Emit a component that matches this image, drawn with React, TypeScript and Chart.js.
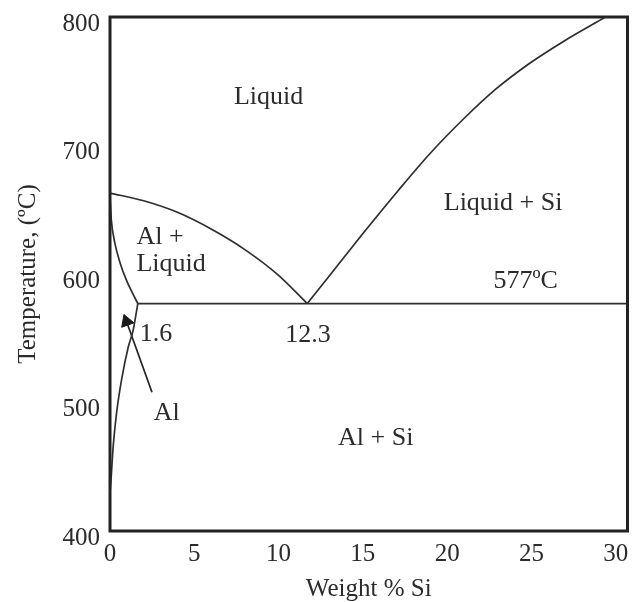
import React, { useEffect, useRef } from "react";
import { Chart, registerables } from "chart.js";

Chart.register(...registerables);

// Axis ticks
const xTicks = [0, 5, 10, 15, 20, 25, 30];
const yTicks = [400, 500, 600, 700, 800];
const xMin = 0;
const xMax = 30.7;
const yMin = 400;
const yMax = 800;

// Phase boundaries (wt% Si, temperature °C)
const alLiquidusX = [0, 2, 4, 6, 8, 10, 11.7];
const alLiquidusT = [663, 657, 648, 635, 619, 599, 577];
const solidusX = [0, 0.08, 0.29, 0.59, 0.98, 1.3, 1.65];
const solidusT = [660, 642, 624, 609, 595, 586, 577];
const solvusX = [0, 0.06, 0.19, 0.39, 0.69, 1.08, 1.37, 1.65];
const solvusT = [430, 440, 466, 492, 518, 543, 556, 577];
const siLiquidusX = [11.7, 13.1, 15.1, 17.1, 19.0, 21.0, 22.9, 24.9, 26.9, 29.4];
const siLiquidusT = [577, 600, 633, 665, 694, 721, 744, 764, 781, 800];
const eutecticX = [1.65, 30.7];
const eutecticT = [577, 577];
const arrowX = [2.49, 0.98];
const arrowT = [508, 563];

// Annotations (left-baseline anchor in data coordinates)
const labelTexts = ["Liquid", "Al +", "Liquid", "Liquid + Si", "577ºC", "12.3", "1.6", "Al", "Al + Si"];
const labelX = [7.35, 1.57, 1.57, 19.8, 22.75, 10.39, 1.76, 2.59, 13.53];
const labelT = [732, 623, 602, 650, 589, 547, 548, 486, 467];

const FONT = "'Liberation Serif', 'Times New Roman', serif";
const INK = "#2b2b2b";
const LINE = "#2e2e2e";

const toPts = (xs: number[], ys: number[]) => xs.map((v, i) => ({ x: v, y: ys[i] }));

const curve = (xs: number[], ys: number[], smooth = true) => ({
  data: toPts(xs, ys),
  showLine: true,
  borderColor: LINE,
  borderWidth: 1.7,
  pointRadius: 0,
  cubicInterpolationMode: smooth ? "monotone" : "default",
  tension: smooth ? 0.4 : 0,
  fill: false,
});

const overlayPlugin = {
  id: "overlay",
  afterDraw(chart: any) {
    const { ctx, chartArea: a, scales } = chart;
    const xs = scales.x;
    const ys = scales.y;
    ctx.save();
    ctx.strokeStyle = "#222";
    ctx.lineWidth = 3;
    ctx.strokeRect(a.left, a.top, a.right - a.left, a.bottom - a.top);
    ctx.fillStyle = INK;
    ctx.font = `26px ${FONT}`;
    ctx.textAlign = "left";
    ctx.textBaseline = "alphabetic";
    labelTexts.forEach((t, i) => {
      ctx.fillText(t, xs.getPixelForValue(labelX[i]), ys.getPixelForValue(labelT[i]));
    });
    ctx.restore();
  },
};

export default function App() {
  const ref = useRef<HTMLCanvasElement | null>(null);
  useEffect(() => {
    if (!ref.current) return;
    const chart = new Chart(ref.current, {
      type: "scatter",
      data: {
        datasets: [
          curve(alLiquidusX, alLiquidusT),
          curve(solidusX, solidusT),
          curve(solvusX, solvusT),
          curve(siLiquidusX, siLiquidusT),
          curve(eutecticX, eutecticT, false),
          {
            data: toPts(arrowX, arrowT),
            showLine: true,
            borderColor: "#222",
            borderWidth: 1.7,
            pointRadius: [0, 7.5],
            pointStyle: "triangle",
            rotation: -20,
            pointBackgroundColor: "#1a1a1a",
            pointBorderColor: "#1a1a1a",
            pointBorderWidth: 1,
            tension: 0,
          },
        ] as any,
      },
      options: {
        animation: false,
        responsive: false,
        events: [],
        layout: { padding: { top: 17, right: 4, left: 0, bottom: 0 } },
        plugins: { legend: { display: false }, tooltip: { enabled: false } },
        scales: {
          x: {
            type: "linear",
            min: xMin,
            max: xMax,
            grid: { display: false, drawTicks: false },
            border: { display: false },
            afterBuildTicks: (s: any) => {
              s.ticks = xTicks.map((v) => ({ value: v }));
            },
            afterFit: (s: any) => {
              s.height = 71;
              s.paddingLeft = 0;
              s.paddingRight = 0;
            },
            ticks: {
              padding: 8,
              color: INK,
              maxRotation: 0,
              font: { family: FONT, size: 25 },
            },
            title: {
              display: true,
              text: "Weight % Si",
              color: INK,
              padding: 0,
              font: { family: FONT, size: 25, lineHeight: 1 },
            },
          },
          y: {
            type: "linear",
            min: yMin,
            max: yMax,
            grid: { display: false, drawTicks: false },
            border: { display: false },
            afterBuildTicks: (s: any) => {
              s.ticks = yTicks.map((v) => ({ value: v }));
            },
            afterFit: (s: any) => {
              s.width = 110;
              s.paddingTop = 0;
              s.paddingBottom = 0;
            },
            ticks: {
              padding: 10,
              color: INK,
              font: { family: FONT, size: 25, lineHeight: "14px" },
              callback: (v: any) => ["", String(v)],
            },
            title: {
              display: true,
              text: "Temperature, (ºC)",
              color: INK,
              padding: { top: 16, bottom: 0 },
              font: { family: FONT, size: 25, lineHeight: 1 },
            },
          },
        },
      },
      plugins: [overlayPlugin],
    } as any);
    return () => chart.destroy();
  }, []);
  return (
    <div style={{ position: "fixed", left: 0, top: 0, width: 636, height: 602, background: "#fff" }}>
      <canvas ref={ref} width={636} height={602} style={{ display: "block" }} />
    </div>
  );
}
